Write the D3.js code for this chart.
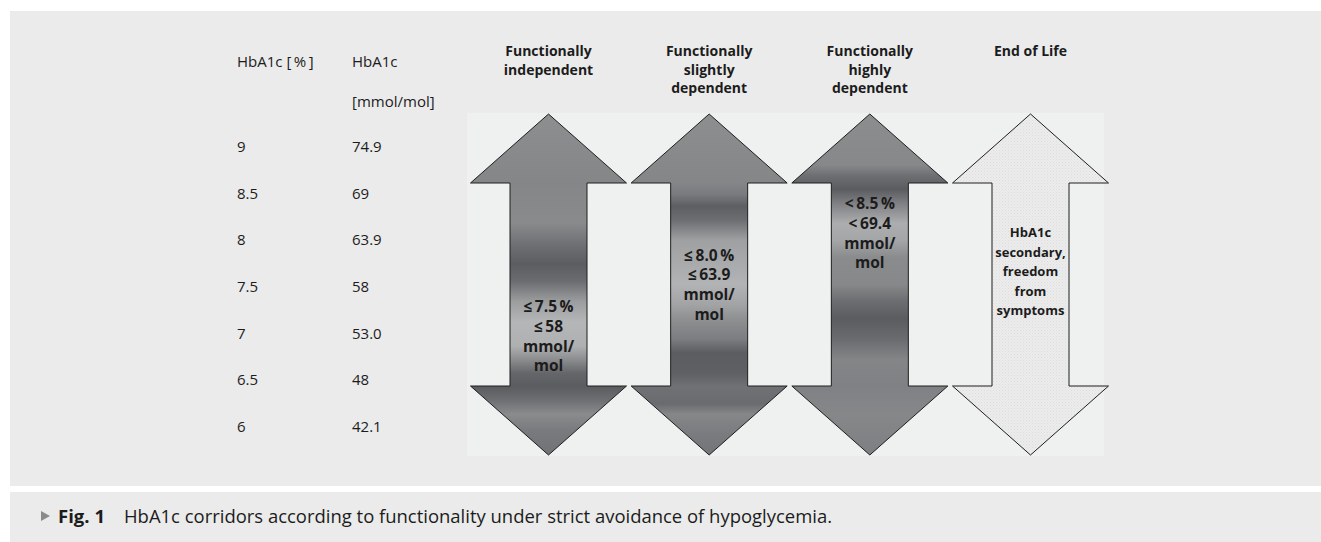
<!DOCTYPE html>
<html><head><meta charset="utf-8">
<script src="https://cdn.jsdelivr.net/npm/d3@7"></script>
<style>
html,body{margin:0;padding:0;background:#fff;}
svg{display:block;}
text{font-family:"Open Sans","Noto Sans",sans-serif;fill:#1c1c1c;}
</style></head>
<body>
<svg id="chart" width="1321" height="542"></svg>
<script>
// ---------- data ----------
const pctRows   = ["9","8.5","8","7.5","7","6.5","6"];
const pctValues = [9, 8.5, 8, 7.5, 7, 6.5, 6];
const mmolRows  = ["74.9","69","63.9","58","53.0","48","42.1"];
const categories = ["independent","slightly dependent","highly dependent","End of Life"];
const headerLines = [
  ["Functionally","independent"],
  ["Functionally","slightly","dependent"],
  ["Functionally","highly","dependent"],
  ["End of Life"]
];
const targetPct = [7.5, 8.0, 8.5, null];
const targetLabels = [
  ["\u2264\u20097.5\u2009%","\u2264\u200958","mmol/","mol"],
  ["\u2264\u20098.0\u2009%","\u2264\u200963.9","mmol/","mol"],
  ["<\u20098.5\u2009%","<\u200969.4","mmol/","mol"],
  ["HbA1c","secondary,","freedom","from","symptoms"]
];
const colHeaders = [["HbA1c [\u2009%\u2009]"],["HbA1c","[mmol/mol]"]];
const caption = "HbA1c corridors according to functionality under strict avoidance of hypoglycemia.";

// ---------- styles ----------
const gradStops = [
  [[0,"#8d8e90"],[0.2,"#858688"],[0.32,"#898a8c"],[0.39,"#6c6d70"],[0.44,"#5c5d60"],[0.49,"#6b6c6f"],[0.55,"#9c9d9f"],[0.61,"#b5b6b8"],[0.68,"#afb0b2"],[0.72,"#8c8d8f"],[0.76,"#656669"],[0.8,"#5b5c5f"],[0.84,"#6e6f72"],[0.88,"#8a8b8d"],[0.93,"#797a7d"],[1,"#717275"]],
  [[0,"#8d8e90"],[0.2,"#858688"],[0.235,"#7a7b7e"],[0.27,"#5e5f62"],[0.31,"#6c6d70"],[0.37,"#9fa0a2"],[0.5,"#b2b3b5"],[0.56,"#a2a3a5"],[0.6,"#8f9092"],[0.66,"#7c7d80"],[0.7,"#5c5d60"],[0.76,"#5f6063"],[0.8,"#707174"],[0.85,"#6a6b6e"],[0.88,"#868789"],[0.94,"#7a7b7e"],[1,"#747578"]],
  [[0,"#8c8d8f"],[0.15,"#87888a"],[0.18,"#6e6f72"],[0.22,"#5b5c5f"],[0.26,"#7d7e81"],[0.32,"#acadaf"],[0.37,"#a5a6a8"],[0.42,"#8a8b8d"],[0.5,"#87888a"],[0.55,"#6c6d70"],[0.6,"#5b5c5f"],[0.66,"#6a6b6e"],[0.72,"#848587"],[0.8,"#808184"],[0.88,"#868789"],[1,"#7e7f82"]],
  null
];

const svg = d3.select("#chart");
const W = 1321, H = 542;

// backgrounds
svg.append("rect").attr("x",10).attr("y",11).attr("width",W-10).attr("height",475).attr("fill","#ebebeb");
svg.append("rect").attr("x",10).attr("y",492).attr("width",W-10).attr("height",50).attr("fill","#ebebeb");
svg.append("rect").attr("x",467).attr("y",113).attr("width",637).attr("height",343).attr("fill","#eff0f0");

// ---------- scales ----------
const yRow = d3.scaleLinear().domain([6,9]).range([432,152]);       // table baselines
const yLabel = d3.scaleLinear().domain([6,9]).range([466.5,157.5]); // first-label baselines inside arrows
const xArrow = d3.scalePoint().domain(categories).range([548.5,1030.5]);

// ---------- table ----------
const colX = [237, 352];
colHeaders.forEach((lines,i)=>{
  lines.forEach((t,j)=>{
    svg.append("text").attr("x",colX[i]).attr("y",67+j*39.5)
      .attr("font-size",15).text(t);
  });
});
svg.selectAll("text.pct").data(pctRows).join("text").attr("class","pct")
  .attr("x",colX[0]).attr("y",(d,i)=>yRow(pctValues[i])).attr("font-size",15).text(d=>d);
svg.selectAll("text.mmol").data(mmolRows).join("text").attr("class","mmol")
  .attr("x",colX[1]).attr("y",(d,i)=>yRow(pctValues[i])).attr("font-size",15).text(d=>d);

// ---------- defs ----------
const defs = svg.append("defs");
gradStops.forEach((stops,i)=>{
  if(!stops) return;
  const g = defs.append("linearGradient").attr("id","g"+i)
    .attr("gradientUnits","userSpaceOnUse").attr("x1",0).attr("x2",0).attr("y1",114).attr("y2",455);
  stops.forEach(s=>g.append("stop").attr("offset",s[0]).attr("stop-color",s[1]));
});
const pat = defs.append("pattern").attr("id","dots").attr("patternUnits","userSpaceOnUse")
  .attr("width",3).attr("height",3);
pat.append("rect").attr("width",3).attr("height",3).attr("fill","#ececec");
pat.append("rect").attr("x",0).attr("y",0).attr("width",1).attr("height",1).attr("fill","#dcdcdc");
pat.append("rect").attr("x",1.5).attr("y",1.5).attr("width",1).attr("height",1).attr("fill","#e0e0e0");

// ---------- arrows ----------
const arrTop = 114, headBase = 183, lowBase = 386, arrBottom = 455;
const headHalf = 78, shaftHalf = 38.5;
function arrowPath(cx){
  const p = d3.path();
  p.moveTo(cx, arrTop);
  p.lineTo(cx+headHalf, headBase);
  p.lineTo(cx+shaftHalf, headBase);
  p.lineTo(cx+shaftHalf, lowBase);
  p.lineTo(cx+headHalf, lowBase);
  p.lineTo(cx, arrBottom);
  p.lineTo(cx-headHalf, lowBase);
  p.lineTo(cx-shaftHalf, lowBase);
  p.lineTo(cx-shaftHalf, headBase);
  p.lineTo(cx-headHalf, headBase);
  p.closePath();
  return p.toString();
}
const order = [3,2,1,0];
order.forEach(i=>{
  svg.append("path").attr("d",arrowPath(xArrow(categories[i])))
    .attr("fill", gradStops[i] ? `url(#g${i})` : "url(#dots)")
    .attr("stroke","#1e1e1e").attr("stroke-width",1).attr("stroke-linejoin","miter");
});

// headers
headerLines.forEach((lines,i)=>{
  lines.forEach((t,j)=>{
    svg.append("text").attr("x",xArrow(categories[i])).attr("y",56+j*18.5)
      .attr("text-anchor","middle").attr("font-size",14).attr("font-weight",700).text(t);
  });
});

// labels in arrows
targetLabels.forEach((lines,i)=>{
  const y0 = targetPct[i]!==null ? yLabel(targetPct[i]) : 237;
  const fs = targetPct[i]!==null ? 15.5 : 13;
  const lh = targetPct[i]!==null ? 19.8 : 19.5;
  lines.forEach((t,j)=>{
    svg.append("text").attr("x",xArrow(categories[i])).attr("y",y0+j*lh)
      .attr("text-anchor","middle").attr("font-size",fs).attr("font-weight",700).text(t);
  });
});

// ---------- caption ----------
svg.append("path").attr("d","M41,511 L50,516 L41,521 Z").attr("fill","#8a8a8a");
svg.append("text").attr("x",58).attr("y",523).attr("font-size",18).attr("font-weight",700)
  .attr("textLength",47).attr("lengthAdjust","spacingAndGlyphs").text("Fig. 1");
svg.append("text").attr("x",124).attr("y",523).attr("font-size",18)
  .attr("textLength",708).attr("lengthAdjust","spacingAndGlyphs").text(caption);
</script>
</body></html>
